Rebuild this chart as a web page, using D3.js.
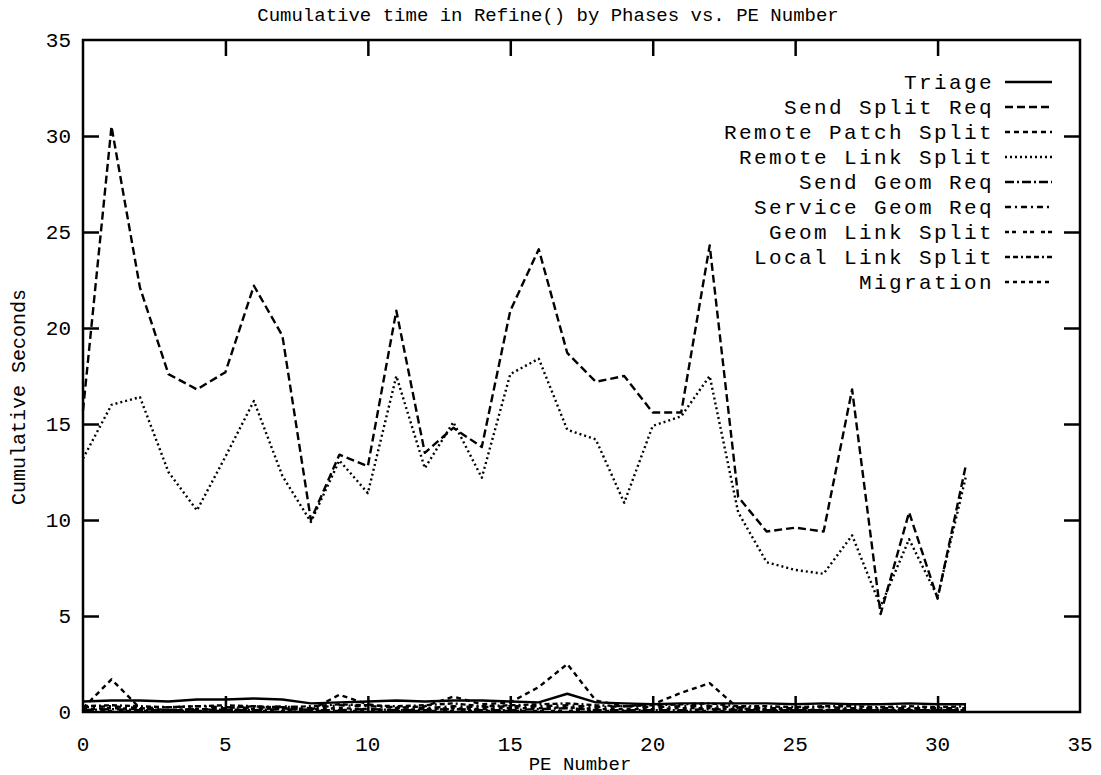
<!DOCTYPE html>
<html>
<head>
<meta charset="utf-8">
<script src="https://cdn.jsdelivr.net/npm/d3@7"></script>
<style>
  html, body { margin: 0; padding: 0; background: #fff; }
  text { font-family: "Liberation Mono", "DejaVu Sans Mono", monospace; fill: #000; }
</style>
</head>
<body>
<div id="chart"></div>
<script>
const peNumbers = d3.range(0, 32);

const triage = [0.55, 0.6, 0.6, 0.55, 0.65, 0.65, 0.7, 0.65, 0.45, 0.5, 0.55, 0.6, 0.55, 0.6, 0.6, 0.55,
  0.5, 0.95, 0.5, 0.45, 0.4, 0.45, 0.45, 0.45, 0.45, 0.4, 0.45, 0.4, 0.4, 0.45, 0.4, 0.4];
const sendSplitReq = [15.7, 30.5, 22.1, 17.6, 16.8, 17.7, 22.2, 19.6, 10.0, 13.4, 12.8, 20.9, 13.5, 14.8, 13.8, 20.9,
  24.1, 18.7, 17.2, 17.5, 15.6, 15.6, 24.3, 11.2, 9.4, 9.6, 9.4, 16.8, 5.1, 10.4, 5.9, 12.9];
const remotePatchSplit = [0.2, 1.7, 0.2, 0.1, 0.1, 0.2, 0.3, 0.2, 0.1, 0.9, 0.4, 0.2, 0.3, 0.8, 0.4, 0.5,
  1.3, 2.5, 0.6, 0.3, 0.4, 1.0, 1.5, 0.2, 0.1, 0.1, 0.1, 0.1, 0.1, 0.1, 0.1, 0.1];
const remoteLinkSplit = [13.2, 16.0, 16.4, 12.5, 10.5, 13.3, 16.2, 12.3, 9.9, 13.1, 11.4, 17.5, 12.7, 15.1, 12.2, 17.6,
  18.4, 14.7, 14.2, 10.9, 14.9, 15.4, 17.5, 10.4, 7.8, 7.4, 7.2, 9.2, 5.5, 9.0, 6.0, 12.3];
const sendGeomReq = [0.1, 0.15, 0.1, 0.1, 0.15, 0.1, 0.1, 0.15, 0.1, 0.1, 0.15, 0.1, 0.1, 0.15, 0.1, 0.1,
  0.15, 0.2, 0.1, 0.1, 0.1, 0.1, 0.15, 0.1, 0.1, 0.1, 0.1, 0.1, 0.1, 0.1, 0.1, 0.1];
const serviceGeomReq = [0.25, 0.3, 0.2, 0.25, 0.3, 0.25, 0.2, 0.3, 0.2, 0.35, 0.3, 0.25, 0.2, 0.3, 0.25, 0.3,
  0.3, 0.35, 0.25, 0.3, 0.25, 0.3, 0.3, 0.25, 0.2, 0.2, 0.25, 0.2, 0.2, 0.2, 0.2, 0.2];
const geomLinkSplit = [0.05, 0.05, 0.05, 0.05, 0.05, 0.05, 0.05, 0.05, 0.05, 0.05, 0.05, 0.05, 0.05, 0.05, 0.05, 0.05,
  0.05, 0.05, 0.05, 0.05, 0.05, 0.05, 0.05, 0.05, 0.05, 0.05, 0.05, 0.05, 0.05, 0.05, 0.05, 0.05];
const localLinkSplit = [0.3, 0.35, 0.3, 0.25, 0.3, 0.35, 0.3, 0.25, 0.3, 0.4, 0.35, 0.3, 0.35, 0.45, 0.3, 0.35,
  0.4, 0.45, 0.35, 0.3, 0.35, 0.4, 0.45, 0.3, 0.3, 0.25, 0.3, 0.3, 0.25, 0.3, 0.25, 0.3];
const migration = [0.15, 0.2, 0.15, 0.1, 0.15, 0.1, 0.15, 0.2, 0.15, 0.2, 0.15, 0.1, 0.15, 0.2, 0.15, 0.2,
  0.2, 0.25, 0.15, 0.15, 0.15, 0.2, 0.2, 0.15, 0.15, 0.15, 0.1, 0.15, 0.1, 0.15, 0.1, 0.15];

const seriesNames = ["Triage", "Send Split Req", "Remote Patch Split", "Remote Link Split", "Send Geom Req",
  "Service Geom Req", "Geom Link Split", "Local Link Split", "Migration"];
const seriesValues = [triage, sendSplitReq, remotePatchSplit, remoteLinkSplit, sendGeomReq,
  serviceGeomReq, geomLinkSplit, localLinkSplit, migration];
const seriesDashes = ["none", "8,4", "5,4", "2,3", "9,3,2,3", "6,4,2,4", "4,3,4,7", "5,3,5,3,2,3", "4,4"];

const xTicks = [0, 5, 10, 15, 20, 25, 30, 35];
const yTicks = [0, 5, 10, 15, 20, 25, 30, 35];

const width = 1101;
const height = 775;
const plot = { left: 83, right: 1080, top: 40, bottom: 712 };
const tickLen = 16;

const svg = d3.select("#chart").append("svg")
  .attr("width", width)
  .attr("height", height);

const x = d3.scaleLinear().domain([0, 35]).range([plot.left, plot.right]);
const y = d3.scaleLinear().domain([0, 35]).range([plot.bottom, plot.top]);

// lines
const line = d3.line()
  .x((d, i) => x(peNumbers[i]))
  .y((d) => y(d));

svg.append("g")
  .selectAll("path")
  .data(seriesValues)
  .join("path")
  .attr("fill", "none")
  .attr("stroke", "#000")
  .attr("stroke-width", 2.4)
  .attr("stroke-linejoin", "round")
  .attr("stroke-dasharray", (d, i) => seriesDashes[i])
  .attr("d", line);

// frame with inward ticks on every side
svg.append("rect")
  .attr("x", plot.left)
  .attr("y", plot.top)
  .attr("width", plot.right - plot.left)
  .attr("height", plot.bottom - plot.top)
  .attr("fill", "none")
  .attr("stroke", "#000")
  .attr("stroke-width", 2.5);

const axes = [
  [d3.axisBottom(x), `translate(0,${plot.bottom})`],
  [d3.axisTop(x), `translate(0,${plot.top})`],
  [d3.axisLeft(y), `translate(${plot.left},0)`],
  [d3.axisRight(y), `translate(${plot.right},0)`],
];
axes.forEach(([axis, transform], i) => {
  const ticks = i < 2 ? xTicks : yTicks;
  const g = svg.append("g")
    .attr("transform", transform)
    .call(axis.tickValues(ticks).tickSize(-tickLen).tickPadding(0).tickFormat(""));
  g.select(".domain").remove();
  g.selectAll(".tick line").attr("stroke", "#000").attr("stroke-width", 2.5);
  g.selectAll(".tick").filter((d) => d === 0 || d === 35).remove();
});

// tick labels
svg.append("g")
  .selectAll("text")
  .data(xTicks)
  .join("text")
  .attr("x", (d) => x(d))
  .attr("y", plot.bottom + 39)
  .attr("text-anchor", "middle")
  .style("font-size", "21px")
  .text((d) => d);

svg.append("g")
  .selectAll("text")
  .data(yTicks)
  .join("text")
  .attr("x", plot.left - 12)
  .attr("y", (d) => y(d) + 7)
  .attr("text-anchor", "end")
  .style("font-size", "21px")
  .text((d) => d);

// titles
svg.append("text")
  .attr("x", 548)
  .attr("y", 21)
  .attr("text-anchor", "middle")
  .style("font-size", "19px")
  .text("Cumulative time in Refine() by Phases vs. PE Number");

svg.append("text")
  .attr("x", 580)
  .attr("y", 770)
  .attr("text-anchor", "middle")
  .style("font-size", "19px")
  .text("PE Number");

svg.append("text")
  .attr("transform", "translate(25,397) rotate(-90)")
  .attr("text-anchor", "middle")
  .style("font-size", "20px")
  .text("Cumulative Seconds");

// legend
const legend = svg.append("g");
seriesNames.forEach((name, i) => {
  const ly = 82 + i * 25;
  legend.append("text")
    .attr("x", 994)
    .attr("y", ly + 7)
    .attr("text-anchor", "end")
    .style("font-size", "21px")
    .style("letter-spacing", "2.4px")
    .text(name);
  legend.append("line")
    .attr("x1", 1005)
    .attr("x2", 1052)
    .attr("y1", ly)
    .attr("y2", ly)
    .attr("stroke", "#000")
    .attr("stroke-width", 2.4)
    .attr("stroke-dasharray", seriesDashes[i]);
});
</script>
</body>
</html>
